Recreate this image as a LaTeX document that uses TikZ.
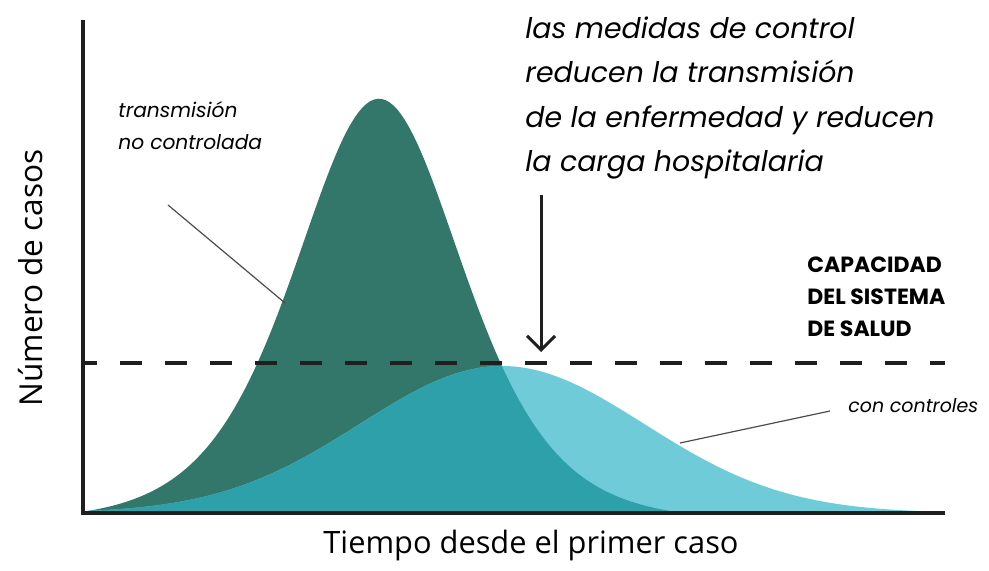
\documentclass[tikz,border=0pt]{standalone}
\usepackage{fontspec}
\setmainfont{Lato}
\newfontfamily\geofont{Poppins}
\newfontfamily\ejefont{Open Sans}
\usetikzlibrary{positioning,arrows.meta}
\definecolor{verdeOscuro}{RGB}{51,119,106}
\definecolor{celeste}{RGB}{112,203,217}
\definecolor{turquesa}{RGB}{46,160,170}

\begin{document}
\begin{tikzpicture}[x=0.5pt,y=-0.5pt,
	declare function={sinctrl(\x)=max(0,422*(1/cosh((\x-379)/113)^2-0.018));
		conctrl(\x)=147*exp(-0.5*((\x-502)/142)^2);},
	eje/.style={line width=2pt,black!88},
	guia/.style={line width=0.6pt,black!70},
	capacidad/.style={line width=2pt,black!88,dash pattern=on 11pt off 11.5pt,dash phase=4pt},
	etiqueta/.style={inner sep=0pt,anchor=north west,align=left}]
	\useasboundingbox (0,0) rectangle (989,571);
	% curvas
	\fill[verdeOscuro] (83,513) -- plot[domain=83:700,samples=160] (\x,{513-sinctrl(\x)}) -- cycle;
	\fill[celeste] (83,513) -- plot[domain=83:945,samples=160] (\x,{513-conctrl(\x)}) -- cycle;
	\begin{scope}
		\clip (83,513) -- plot[domain=83:945,samples=160] (\x,{513-conctrl(\x)}) -- cycle;
		\fill[turquesa] (83,513) -- plot[domain=83:700,samples=160] (\x,{513-sinctrl(\x)}) -- cycle;
	\end{scope}
	% capacidad
	\coordinate (capA) at (83,363);
	\coordinate (capB) at (945,363);
	\draw[capacidad] (capA) -- (capB);
	% ejes
	\coordinate (ejeY) at (83,20);
	\coordinate (origen) at (83,513);
	\coordinate (ejeX) at (945,513);
	\draw[eje] (ejeY) -- (origen) -- (ejeX);
	\node[anchor=base,font=\ejefont\fontsize{15.4}{18}\selectfont] (tiempo) at (531,553) {Tiempo desde el primer caso};
	\node[anchor=base,rotate=90,font=\ejefont\fontsize{15.8}{18}\selectfont] (casos) at (42,278) {Número de casos};
	% textos
	\node[etiqueta,font=\geofont\itshape\fontsize{14.2}{22.3}\selectfont] (medidas) at (525,16)
		{las medidas de control\\reducen la transmisión\\de la enfermedad y reducen\\la carga hospitalaria};
	\node[etiqueta,font=\geofont\itshape\fontsize{10.1}{16}\selectfont] (sinctrl) at (118,101)
		{transmisión\\no controlada};
	\node[etiqueta,font=\geofont\bfseries\fontsize{11}{16}\selectfont] (sistema) at (807,256)
		{CAPACIDAD\\DEL SISTEMA\\DE SALUD};
	\node[etiqueta,font=\geofont\itshape\fontsize{9.5}{16}\selectfont] (conctrl) at (848,398)
		{con controles};
	% flecha y guias
	\coordinate (flechaA) at (541,195);
	\coordinate (flechaB) at (541,352);
	\draw[line width=1.5pt,black!88,-{Straight Barb[length=7pt,width=14pt]}] (flechaA) -- (flechaB);
	\coordinate (t1) at (168,205);
	\coordinate (t2) at (285,303);
	\draw[guia] (t1) -- (t2);
	\coordinate (c1) at (830,411);
	\coordinate (c2) at (680,443);
	\draw[guia] (c1) -- (c2);
\end{tikzpicture}
\end{document}
